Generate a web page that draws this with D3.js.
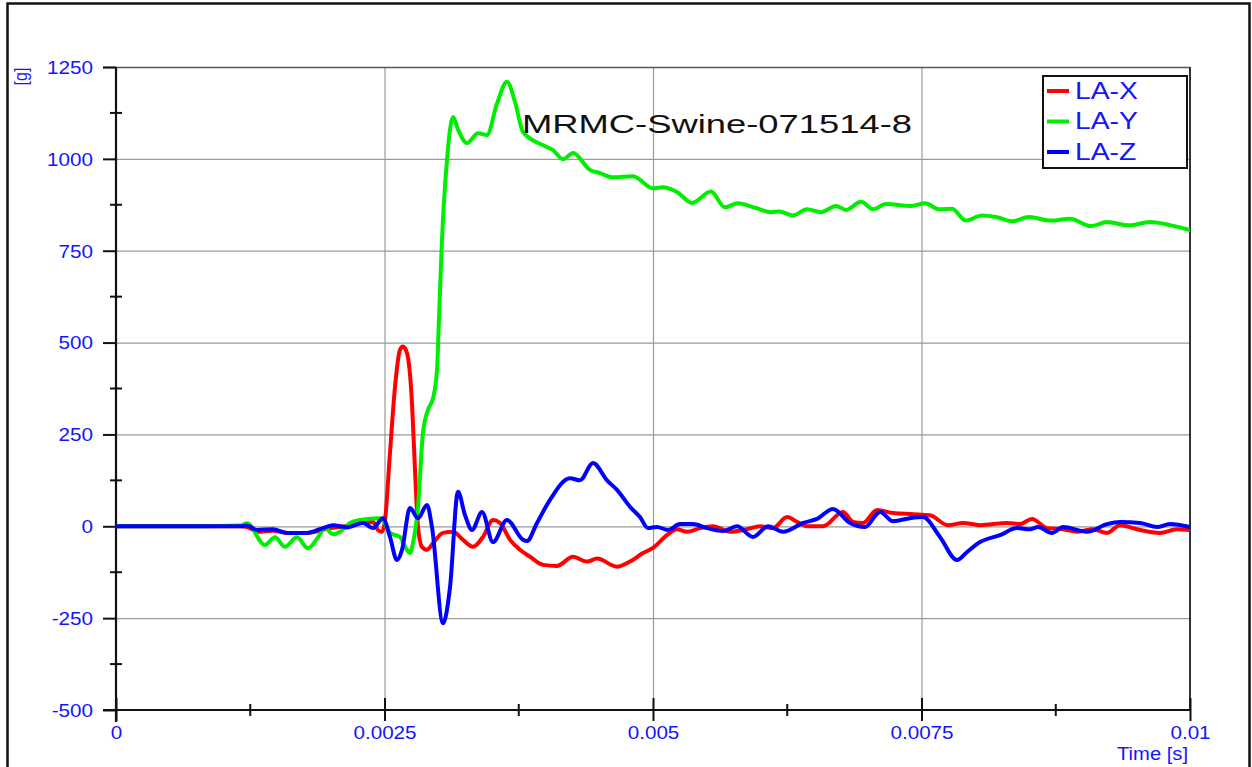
<!DOCTYPE html>
<html>
<head>
<meta charset="utf-8">
<script src="https://cdn.jsdelivr.net/npm/d3@7"></script>
<style>
  html, body { margin: 0; padding: 0; background: #fff; }
  svg { display: block; }
  text { font-family: "Liberation Sans", Arial, sans-serif; }
</style>
</head>
<body>
<svg id="chart" width="1252" height="767"></svg>
<script>
// ---------------- DATA ----------------
const chartTitle = "MRMC-Swine-071514-8";
const seriesNames = ["LA-X", "LA-Y", "LA-Z"];
const seriesColors = ["#ff0000", "#00ee00", "#0000ff"];

const xTickValues = [0, 0.0025, 0.005, 0.0075, 0.01];
const xTickLabels = ["0", "0.0025", "0.005", "0.0075", "0.01"];
const xMinorTicks = [0.00125, 0.00375, 0.00625, 0.00875];
const yTickValues = [1250, 1000, 750, 500, 250, 0, -250, -500];
const yTickLabels = ["1250", "1000", "750", "500", "250", "0", "-250", "-500"];
const yMinorTicks = [1125, 875, 625, 375, 125, -125, -375];
const xAxisTitle = "Time [s]";
const yAxisTitle = "[g]";

// LA-X (red)
const laXTime = [0, 0.001155, 0.00122, 0.001322, 0.001462, 0.001592, 0.001778, 0.001993, 0.002132, 0.002272,
  0.002393, 0.002439, 0.002477, 0.002505, 0.002551, 0.002598, 0.002644, 0.002672, 0.002709, 0.002756,
  0.002784, 0.002812, 0.002849, 0.002896, 0.002952, 0.003045, 0.003138, 0.003231, 0.003324, 0.003417,
  0.00351, 0.003575, 0.003669, 0.003762, 0.003855, 0.003976, 0.004106, 0.004255, 0.004385, 0.004479,
  0.004665, 0.004786, 0.004907, 0.005, 0.00513, 0.005223, 0.005317, 0.005438, 0.005559, 0.005717,
  0.005875, 0.005996, 0.006117, 0.006248, 0.006341, 0.006434, 0.006583, 0.006769, 0.006862, 0.006955,
  0.007086, 0.007235, 0.007421, 0.007579, 0.007747, 0.007886, 0.008045, 0.008296, 0.008417, 0.008529,
  0.008669, 0.008818, 0.008948, 0.009097, 0.009227, 0.009348, 0.009535, 0.009721, 0.009879, 0.01];
const laXValues = [0, 0, -2, -15, -12, -18, -18, -5, 0, 9,
  12, -10, -15, 17, 200, 380, 480, 489, 472, 335,
  153, -2, -56, -64, -46, -18, -15, -37, -56, -29,
  17, 9, -37, -64, -83, -105, -108, -83, -96, -88,
  -110, -96, -73, -59, -24, -8, -15, -5, 0, -15,
  -8, 0, -5, 25, 12, 0, 0, 39, 12, 9,
  44, 36, 33, 30, 3, 9, 3, 9, 6, 20,
  -5, -8, -15, -8, -18, 3, -10, -18, -8, -10];

// LA-Y (green)
const laYTime = [0, 0.00078, 0.001155, 0.00122, 0.001387, 0.00148, 0.001574, 0.001685, 0.001788, 0.001881,
  0.001946, 0.002021, 0.002086, 0.002179, 0.002272, 0.002458, 0.002486, 0.002551, 0.002644, 0.002709,
  0.002737, 0.002765, 0.002812, 0.002858, 0.002905, 0.002952, 0.002989, 0.003007, 0.003035, 0.003082,
  0.003138, 0.003184, 0.003268, 0.003371, 0.003454, 0.003547, 0.003641, 0.003715, 0.00379, 0.003976,
  0.004069, 0.004162, 0.004255, 0.004413, 0.004507, 0.004628, 0.004814, 0.005, 0.005093, 0.005223,
  0.005363, 0.00554, 0.00567, 0.005787, 0.00594, 0.006099, 0.006173, 0.006304, 0.006434, 0.006564,
  0.006704, 0.006797, 0.006937, 0.007049, 0.007169, 0.007402, 0.007533, 0.007663, 0.007784, 0.007914,
  0.008063, 0.008194, 0.008343, 0.008501, 0.008697, 0.008883, 0.009078, 0.009227, 0.009432, 0.009628,
  0.009823, 0.01];
const laYValues = [0, 0, 2, 8, -51, -30, -56, -30, -60, -30,
  -5, -22, -15, 9, 17, 22, 17, -18, -29, -64,
  -73, -46, 53, 254, 317, 349, 425, 562, 779, 997,
  1114, 1080, 1043, 1070, 1065, 1150, 1210, 1155, 1073, 1037,
  1024, 999, 1016, 970, 961, 950, 953, 920, 923, 910,
  880, 911, 868, 879, 868, 855, 857, 846, 863, 855,
  872, 861, 883, 863, 877, 872, 879, 863, 864, 832,
  846, 842, 830, 842, 832, 837, 817, 828, 819, 828,
  819, 806];

// LA-Z (blue)
const laZTime = [0, 0.001155, 0.00122, 0.001313, 0.001462, 0.001592, 0.001778, 0.001899, 0.002021, 0.002151,
  0.0023, 0.002393, 0.002486, 0.002551, 0.002616, 0.002663, 0.002737, 0.002812, 0.002896, 0.002942,
  0.003045, 0.00311, 0.003184, 0.00325, 0.003315, 0.003408, 0.00351, 0.003641, 0.00379, 0.003827,
  0.00392, 0.004041, 0.004227, 0.00432, 0.004441, 0.004572, 0.004665, 0.004786, 0.004879, 0.004953,
  0.005037, 0.00514, 0.005251, 0.005372, 0.005503, 0.005652, 0.005782, 0.005931, 0.006071, 0.006211,
  0.006397, 0.006527, 0.006676, 0.006834, 0.006974, 0.007114, 0.007235, 0.007393, 0.007514, 0.007672,
  0.00783, 0.007924, 0.008045, 0.008231, 0.008389, 0.00851, 0.008585, 0.008715, 0.008818, 0.009041,
  0.009227, 0.009348, 0.009535, 0.009693, 0.009814, 0.01];
const laZValues = [0, 0, 2, -10, -8, -18, -18, -8, 3, -3,
  9, -5, 22, -29, -92, -64, 50, 22, 58, -2,
  -264, -166, 94, 30, -10, 39, -43, 17, -37, -40,
  9, 72, 131, 125, 172, 125, 99, 53, 25, -5,
  -2, -10, 6, 6, -5, -13, 0, -29, 0, -15,
  9, 20, 47, 9, -2, 39, 14, 22, 25, -29,
  -92, -70, -43, -24, -5, -8, -2, -18, -2, -15,
  6, 12, 9, -2, 6, -2];

const seriesTimes = [laXTime, laYTime, laZTime];
const seriesValues = [laXValues, laYValues, laZValues];

// ---------------- DRAW ----------------
const svg = d3.select("#chart");
const W = 1252, H = 767;
const plot = { left: 116, right: 1190, top: 67, bottom: 710 };
const textBlue = "#1414ff";

svg.append("rect").attr("width", W).attr("height", H).attr("fill", "#fff");
// outer frame
svg.append("rect").attr("x", 7.5).attr("y", 3.5).attr("width", 1242).attr("height", 800)
  .attr("fill", "none").attr("stroke", "#111").attr("stroke-width", 2.5);

const x = d3.scaleLinear().domain([0, 0.01]).range([plot.left, plot.right]);
const y = d3.scaleLinear().domain([-500, 1250]).range([plot.bottom, plot.top]);

function stretch(sel, f) {
  sel.each(function () {
    const l = this.getComputedTextLength();
    d3.select(this).attr("textLength", l * f).attr("lengthAdjust", "spacingAndGlyphs");
  });
}

// grid
const grid = svg.append("g");
grid.selectAll("line.hg").data(yTickValues.filter(v => v > -500 && v < 1250)).join("line")
  .attr("x1", plot.left).attr("x2", plot.right)
  .attr("y1", d => y(d) + 0.5).attr("y2", d => y(d) + 0.5)
  .attr("stroke", "#9a9a9a").attr("stroke-width", 1.2);
grid.selectAll("line.vg").data(xTickValues.filter(v => v > 0 && v < 0.01)).join("line")
  .attr("x1", d => x(d) + 0.5).attr("x2", d => x(d) + 0.5)
  .attr("y1", plot.top).attr("y2", plot.bottom)
  .attr("stroke", "#9a9a9a").attr("stroke-width", 1.2);
// top and right frame of plot
svg.append("line").attr("x1", 103).attr("x2", plot.right).attr("y1", y(1250) + 0.5).attr("y2", y(1250) + 0.5)
  .attr("stroke", "#555").attr("stroke-width", 1.5);
svg.append("line").attr("x1", x(0.01)).attr("x2", x(0.01)).attr("y1", plot.top).attr("y2", plot.bottom)
  .attr("stroke", "#333").attr("stroke-width", 2);

// Y axis
const yAxis = d3.axisLeft(y).tickValues(yTickValues).tickSize(13).tickPadding(10)
  .tickFormat((d, i) => yTickLabels[i]);
const gy = svg.append("g").attr("transform", `translate(${plot.left},0)`).call(yAxis);
gy.select(".domain").remove();
gy.selectAll(".tick line").attr("stroke", "#111").attr("stroke-width", 2);
gy.selectAll(".tick text").attr("fill", textBlue).attr("font-size", 17.5)
  .attr("font-family", "Liberation Sans, Arial, sans-serif").attr("dy", "0.36em");
stretch(gy.selectAll(".tick text"), 1.18);
svg.append("line").attr("x1", plot.left).attr("x2", plot.left).attr("y1", plot.top).attr("y2", 722)
  .attr("stroke", "#111").attr("stroke-width", 2.2);
svg.append("g").selectAll("line").data(yMinorTicks).join("line")
  .attr("x1", plot.left - 6).attr("x2", plot.left + 6)
  .attr("y1", d => y(d)).attr("y2", d => y(d))
  .attr("stroke", "#111").attr("stroke-width", 2);

// X axis
const xAxis = d3.axisBottom(x).tickValues(xTickValues).tickSize(11).tickPadding(6)
  .tickFormat((d, i) => xTickLabels[i]);
const gx = svg.append("g").attr("transform", `translate(0,${plot.bottom})`).call(xAxis);
gx.select(".domain").remove();
gx.selectAll(".tick line").attr("stroke", "#111").attr("stroke-width", 2).attr("y1", -12);
gx.selectAll(".tick text").attr("fill", textBlue).attr("font-size", 17.5)
  .attr("font-family", "Liberation Sans, Arial, sans-serif");
stretch(gx.selectAll(".tick text"), 1.18);
svg.append("line").attr("x1", 103).attr("x2", plot.right).attr("y1", plot.bottom).attr("y2", plot.bottom)
  .attr("stroke", "#111").attr("stroke-width", 2.2);
svg.append("g").selectAll("line").data(xMinorTicks).join("line")
  .attr("x1", d => x(d)).attr("x2", d => x(d))
  .attr("y1", plot.bottom - 6).attr("y2", plot.bottom + 6)
  .attr("stroke", "#111").attr("stroke-width", 2);

// axis titles
const xt = svg.append("text").attr("x", 1188).attr("y", 760).attr("text-anchor", "end")
  .attr("fill", textBlue).attr("font-size", 18).text(xAxisTitle);
stretch(xt, 1.12);
svg.append("text").attr("transform", "translate(26.5,76.5) rotate(-90) scale(1,1.2)").attr("text-anchor", "middle")
  .attr("fill", textBlue).attr("font-size", 16).text(yAxisTitle);

// series
svg.append("clipPath").attr("id", "clip").append("rect")
  .attr("x", plot.left).attr("y", plot.top - 10).attr("width", plot.right - plot.left).attr("height", plot.bottom - plot.top + 10);
const line = d3.line().x(d => x(d[0])).y(d => y(d[1])).curve(d3.curveMonotoneX);
const gSeries = svg.append("g").attr("clip-path", "url(#clip)");
seriesNames.forEach((name, i) => {
  const pts = seriesTimes[i].map((t, j) => [t, seriesValues[i][j]]);
  gSeries.append("path").datum(pts).attr("d", line)
    .attr("fill", "none").attr("stroke", seriesColors[i]).attr("stroke-width", 4)
    .attr("stroke-linejoin", "round").attr("stroke-linecap", "round");
});

// title
svg.append("text").attr("x", 522).attr("y", 133).attr("font-size", 26).attr("fill", "#111")
  .attr("textLength", 390).attr("lengthAdjust", "spacingAndGlyphs").text(chartTitle);

// legend
const lg = svg.append("g");
lg.append("rect").attr("x", 1043).attr("y", 76).attr("width", 144).attr("height", 92)
  .attr("fill", "#fff").attr("stroke", "#111").attr("stroke-width", 2);
seriesNames.forEach((name, i) => {
  const cy = 91 + i * 30.5;
  lg.append("line").attr("x1", 1047).attr("x2", 1069).attr("y1", cy).attr("y2", cy)
    .attr("stroke", seriesColors[i]).attr("stroke-width", 4);
  const t = lg.append("text").attr("x", 1075).attr("y", cy + 7.8).attr("font-size", 23)
    .attr("fill", textBlue).text(name);
  stretch(t, 1.23);
});
</script>
</body>
</html>
